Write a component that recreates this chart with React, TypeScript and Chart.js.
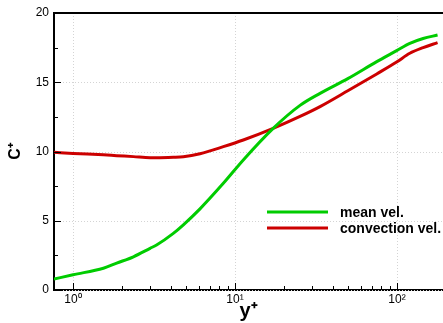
import React, { useEffect, useRef } from "react";
import { Chart, registerables } from "chart.js";

Chart.register(...registerables);

// ---- data ----
const yPlus = [0.763, 1.0, 1.54, 1.86, 2.36, 2.99, 3.28, 4.16, 4.8, 6.08, 8.47, 11.25, 17.2, 25.2, 33.5, 50, 75, 99.5, 120, 145, 178];
const meanVel = [0.79, 1.1, 1.57, 1.94, 2.4, 3.01, 3.25, 4.09, 4.71, 5.86, 7.7, 9.39, 11.67, 13.33, 14.2, 15.28, 16.49, 17.28, 17.81, 18.16, 18.41];
const convVel = [9.94, 9.86, 9.76, 9.7, 9.63, 9.55, 9.55, 9.58, 9.62, 9.84, 10.35, 10.83, 11.67, 12.53, 13.24, 14.4, 15.6, 16.46, 17.09, 17.5, 17.86];
const seriesLabels = ["mean vel.", "convection vel."];
const seriesColors = ["rgb(0,204,0)", "rgb(204,0,0)"];
const xTickValues = [1, 10, 100];
const xTickLabels = ["10\u2070", "10\u00B9", "10\u00B2"];
const xMinorValues = [2, 3, 4, 5, 6, 7, 8, 9, 20, 30, 40, 50, 60, 70, 80, 90];
const yTickValues = [0, 5, 10, 15, 20];
const yMinorValues = [2.5, 7.5, 12.5, 17.5];
const xTitle = "y\u207A";
const yTitle = "C\u207A";

const decorPlugin = {
  id: "decor",
  beforeDatasetsDraw(chart: any) {
    const { ctx, chartArea, scales } = chart;
    const { left, right, top, bottom } = chartArea;
    const x = scales.x, y = scales.y;
    ctx.save();
    ctx.strokeStyle = "#d4d4d4";
    ctx.lineWidth = 1;
    ctx.setLineDash([1, 2]);
    for (const v of xTickValues) {
      const px = Math.round(x.getPixelForValue(v)) + 0.5;
      ctx.beginPath(); ctx.moveTo(px, top); ctx.lineTo(px, bottom); ctx.stroke();
    }
    for (const v of yTickValues) {
      const py = Math.round(y.getPixelForValue(v)) + 0.5;
      ctx.beginPath(); ctx.moveTo(left, py); ctx.lineTo(right, py); ctx.stroke();
    }
    ctx.restore();
  },
  afterDatasetsDraw(chart: any) {
    const { ctx, chartArea, scales } = chart;
    const { left, right, top, bottom } = chartArea;
    const x = scales.x, y = scales.y;
    ctx.save();
    ctx.strokeStyle = "#000";
    ctx.lineWidth = 1;
    const tick = (x1: number, y1: number, x2: number, y2: number) => {
      ctx.beginPath(); ctx.moveTo(x1, y1); ctx.lineTo(x2, y2); ctx.stroke();
    };
    for (const v of xTickValues) {
      const px = Math.round(x.getPixelForValue(v)) + 0.5;
      tick(px, bottom, px, bottom - 7);
    }
    for (const v of xMinorValues) {
      const px = Math.round(x.getPixelForValue(v)) + 0.5;
      tick(px, bottom, px, bottom - 4);
    }
    for (const v of yTickValues) {
      const py = Math.round(y.getPixelForValue(v)) + 0.5;
      tick(left, py, left + 7, py);
    }
    for (const v of yMinorValues) {
      const py = Math.round(y.getPixelForValue(v)) + 0.5;
      tick(left, py, left + 4, py);
    }
    // top frame
    ctx.lineWidth = 2;
    ctx.beginPath(); ctx.moveTo(left - 1, top); ctx.lineTo(right, top); ctx.stroke();

    // legend
    const ds = chart.data.datasets;
    const ly = [212, 228];
    ctx.font = "bold 14px 'Liberation Sans', Arial, sans-serif";
    ctx.textBaseline = "middle";
    ctx.textAlign = "left";
    ds.forEach((d: any, i: number) => {
      ctx.strokeStyle = d.borderColor;
      ctx.lineWidth = 3;
      ctx.beginPath(); ctx.moveTo(267, ly[i]); ctx.lineTo(328, ly[i]); ctx.stroke();
      ctx.fillStyle = "#000";
      ctx.fillText(d.label, 340, ly[i] + 1);
    });
    ctx.restore();
  },
};

export default function App() {
  const ref = useRef<HTMLCanvasElement>(null);
  useEffect(() => {
    if (!ref.current) return;
    const chart = new Chart(ref.current, {
      type: "line",
      data: {
        datasets: [
          {
            label: seriesLabels[0],
            data: yPlus.map((v, i) => ({ x: v, y: meanVel[i] })),
            borderColor: seriesColors[0],
            backgroundColor: seriesColors[0],
            borderWidth: 3,
            pointRadius: 0,
            cubicInterpolationMode: "monotone",
          },
          {
            label: seriesLabels[1],
            data: yPlus.map((v, i) => ({ x: v, y: convVel[i] })),
            borderColor: seriesColors[1],
            backgroundColor: seriesColors[1],
            borderWidth: 3,
            pointRadius: 0,
            cubicInterpolationMode: "monotone",
          },
        ],
      },
      options: {
        animation: false,
        responsive: false,
        maintainAspectRatio: false,
        layout: { padding: { top: 13, right: 0, bottom: 0, left: 0 } },
        plugins: { legend: { display: false }, tooltip: { enabled: false } },
        scales: {
          x: {
            type: "logarithmic",
            min: 0.763,
            max: 192.3,
            grid: { display: false, drawTicks: false },
            border: { display: true, color: "#000", width: 2 },
            afterFit: (s: any) => { s.height = 33; },
            afterBuildTicks: (s: any) => {
              s.ticks = xTickValues.map((v) => ({ value: v, major: true }));
            },
            ticks: {
              autoSkip: false,
              maxRotation: 0,
              minRotation: 0,
              padding: 2,
              color: "#000",
              font: { family: "'Liberation Sans', Arial, sans-serif", size: 12 },
              callback: (v: any) => {
                const idx = xTickValues.indexOf(Number(v));
                return idx >= 0 ? xTickLabels[idx] : "";
              },
            },
            title: {
              display: true,
              text: xTitle,
              color: "#000",
              font: { family: "'Liberation Sans', Arial, sans-serif", size: 20, weight: "bold" },
              padding: 0,
            },
          },
          y: {
            min: 0,
            max: 20,
            grid: { display: false, drawTicks: false },
            border: { display: true, color: "#000", width: 2 },
            afterFit: (s: any) => { s.width = 54; },
            ticks: {
              stepSize: 5,
              padding: 5,
              color: "#000",
              font: { family: "'Liberation Sans', Arial, sans-serif", size: 12 },
            },
            title: {
              display: true,
              text: yTitle,
              color: "#000",
              font: { family: "'Liberation Sans', Arial, sans-serif", size: 16, weight: "bold" },
              padding: { top: 6, bottom: 0 },
            },
          },
        },
      },
      plugins: [decorPlugin],
    } as any);
    return () => chart.destroy();
  }, []);
  return (
    <div style={{ position: "fixed", left: 0, top: 0, width: 443, height: 323, overflow: "hidden", background: "#fff" }}>
      <canvas ref={ref} width={443} height={323} style={{ display: "block" }} />
    </div>
  );
}
